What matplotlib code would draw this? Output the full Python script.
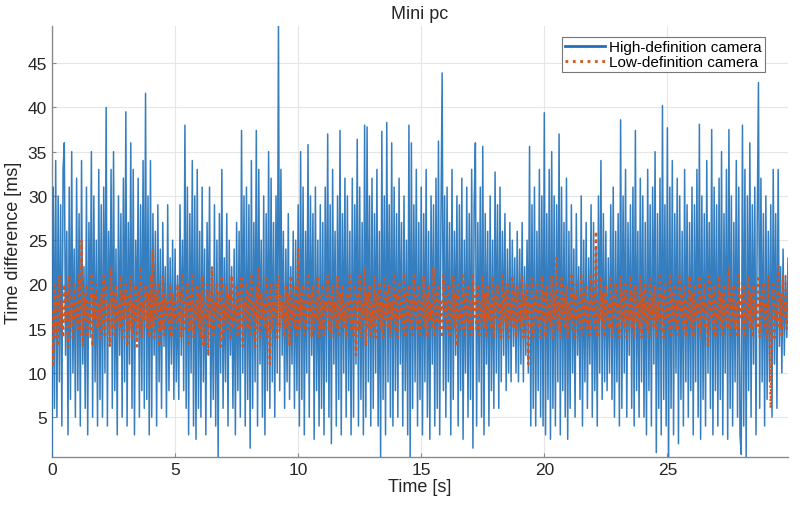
import numpy as np
import matplotlib
matplotlib.use("Agg")
import matplotlib.pyplot as plt

plt.rcParams["font.family"] = ["Liberation Sans", "DejaVu Sans"]

# frame interval of the resampled traces [s]
dt = 0.05

# high-definition camera, time difference between frames [ms] (one row = 1 s)
hd_ms = [
    0.5, 31, 6, 34, 5, 30, 9, 29, 4, 33, 36, 12, 26, 3, 31, 7, 35, 10, 24, 5,
    32, 8, 28, 4, 34, 11, 22, 6, 31, 3, 27, 14, 35, 5, 30, 9, 25, 4, 33, 7,
    29, 5, 31, 10, 40, 4, 26, 13, 33, 6, 35, 8, 24, 3, 30, 12, 28, 5, 32, 9,
    39.5, 4, 27, 11, 36, 6, 33, 3, 25, 14, 32, 5, 29, 8, 34, 6, 41.6, 7, 30, 3,
    34, 5, 28, 12, 26, 4, 29, 9, 24, 6, 27, 13, 22, 5, 29, 8, 23, 11, 25, 7,
    24, 9, 21, 7, 29, 12, 25, 8, 38, 6, 31, 3, 28, 10, 34, 4, 30, 2.5, 33, 6,
    26, 5, 31, 9, 24, 3, 27, 12, 31, 5, 22, 7, 29, 4, 25, 0.5, 28, 10, 33, 6,
    23, 9, 28, 4, 25, 12, 22, 6, 24, 3, 27, 8, 26, 5, 37.4, 10, 30, 4, 31, 7,
    29, 1.5, 34, 6, 27, 9, 37.4, 4, 33, 11, 25, 5, 30, 3, 28, 8, 35, 6, 32, 9,
    27, 5, 30, 10, 49.5, 8, 33, 12, 26, 6, 24, 9, 28, 7, 22, 11, 26, 6, 25, 8,
    29, 4, 35, 7, 31, 3, 26, 10, 35.8, 5, 30, 12, 28, 2.5, 31, 8, 25, 4, 29, 6,
    27, 3, 31, 9, 37, 5, 29, 2, 33, 11, 26, 4, 30, 7, 37.4, 3, 28, 10, 32, 5,
    30, 8, 26, 3, 32, 5, 29, 11, 36.4, 4, 31, 7, 27, 3, 38, 5, 37.8, 9, 30, 4,
    32, 6, 28, 10, 33, 4, 26, 0.5, 37.3, 7, 30, 3, 38.3, 9, 29, 5, 36, 4, 31, 8,
    28, 5, 32, 11, 27, 4, 30, 8, 25, 3, 38, 0.5, 36, 6, 29, 9, 33, 4, 27, 7,
    31, 3, 28, 9, 33, 5, 26, 2.5, 30, 11, 29, 4, 32, 6, 36.2, 3, 27, 43.9, 8, 30,
    5, 31, 9, 27, 3, 33, 7, 26, 12, 30, 4, 29, 8, 32, 2.5, 25, 10, 31, 5, 28,
    7, 33, 1.5, 29, 36, 4, 27, 9, 31, 5, 35.6, 3, 28, 11, 26, 4, 30, 8, 25, 6,
    32.7, 10, 29, 6, 31, 9, 26, 12, 28, 8, 24, 10, 27, 9, 25, 13, 23, 10, 26, 9,
    24, 11, 27, 9, 22, 12, 25, 10, 35.6, 4, 29, 6, 31, 4, 26, 8, 33, 5, 30, 4,
    39.4, 3, 28, 7, 33, 2.5, 35, 6, 30, 4, 29, 9, 37, 3, 31, 8, 27, 5, 32, 2.5,
    26, 6, 29, 10, 24, 5, 28, 12, 22, 7, 30, 4, 25, 9, 27, 6, 23, 11, 29, 5,
    27, 8, 24, 4, 30, 10, 34, 7, 28, 9, 26, 8, 23, 10, 29, 7, 31, 5, 26, 9,
    28, 4, 38.6, 6, 30, 10, 33, 5, 27, 12, 29, 6, 31, 4, 37.4, 8, 26, 5, 32, 9,
    30, 5, 27, 3, 33, 8, 29, 4, 31, 11, 35, 1, 28, 6, 32, 3, 40.2, 7, 29, 4,
    37.7, 0.5, 31, 6, 34, 3, 28, 10, 32, 2, 30, 7, 26, 4, 33, 9, 29, 5, 27, 8,
    31, 3, 29, 9, 33, 5, 38.1, 2.5, 30, 7, 28, 4, 34, 10, 27, 6, 37.5, 3, 31, 8,
    29, 4, 32, 7, 35, 3, 28, 10, 33, 2.5, 37.5, 6, 30, 4, 27, 9, 34, 5, 31, 3,
    0.8, 38, 4, 33, 0.5, 30, 8, 36, 5, 29, 11, 31, 3, 27, 42.8, 6, 32, 9, 28, 4,
    30, 7, 26, 9, 29, 5, 33, 11, 28, 6, 33, 13, 22, 10, 24, 12, 21, 14, 23, 15,
]

# low-definition camera [ms]
ld_ms = [
    17, 11, 20, 14, 19, 13, 21, 15, 18, 14, 20, 16, 19, 13, 21, 15, 18, 14, 20, 16,
    18, 15, 21, 14, 25, 13, 19, 16, 20, 14, 18, 15, 21, 13, 19, 16, 20, 15, 18, 14,
    19, 15, 21, 14, 20, 16, 18, 13, 22, 15, 19, 14, 20, 16, 18, 15, 21, 14, 19, 16,
    20, 13, 19, 15, 21, 14, 18, 16, 20, 13, 19, 15, 22, 14, 18, 16, 20, 15, 19, 14,
    21, 15, 24, 14, 19, 16, 20, 13, 18, 15, 21, 14, 19, 16, 18, 15, 20, 14, 19, 16,
    18, 15, 20, 16, 19, 14, 21, 15, 18, 16, 20, 13, 19, 15, 21, 14, 18, 16, 20, 15,
    19, 14, 21, 13, 18, 16, 20, 12, 19, 15, 22, 14, 18, 16, 20, 15, 19, 13, 21, 14,
    18, 16, 20, 15, 19, 14, 21, 15, 18, 16, 20, 14, 19, 15, 21, 13, 18, 16, 20, 15,
    19, 14, 21, 16, 18, 13, 20, 15, 22, 14, 19, 16, 18, 15, 21, 14, 19, 11, 20, 15,
    18, 16, 20, 14, 21, 15, 19, 16, 18, 14, 20, 15, 19, 13, 21, 16, 18, 15, 20, 14,
    24, 15, 19, 16, 20, 14, 18, 15, 21, 16, 19, 14, 20, 15, 18, 16, 21, 14, 19, 15,
    20, 14, 18, 16, 21, 15, 19, 14, 20, 16, 18, 15, 21, 14, 19, 16, 20, 15, 18, 14,
    19, 16, 21, 15, 18, 14, 20, 12, 19, 15, 21, 14, 18, 16, 22, 13, 19, 15, 20, 14,
    18, 15, 21, 14, 19, 16, 20, 15, 18, 14, 21, 16, 19, 15, 20, 14, 18, 16, 21, 15,
    19, 14, 20, 16, 18, 15, 21, 14, 19, 16, 20, 15, 18, 14, 21, 16, 19, 15, 20, 14,
    18, 16, 21, 15, 19, 14, 20, 16, 18, 15, 22, 14, 19, 16, 20, 15, 18, 14, 21, 16,
    19, 15, 20, 14, 18, 16, 21, 15, 19, 13, 20, 16, 18, 15, 21, 14, 19, 16, 20, 15,
    18, 14, 21, 16, 19, 15, 20, 14, 18, 16, 21, 15, 19, 14, 20, 16, 18, 15, 21, 14,
    19, 16, 20, 15, 18, 14, 21, 16, 19, 15, 20, 14, 18, 16, 21, 15, 19, 14, 20, 16,
    18, 15, 21, 14, 19, 16, 20, 11, 18, 15, 21, 14, 19, 16, 20, 15, 18, 14, 21, 16,
    19, 14, 20, 16, 18, 15, 21, 14, 19, 16, 23, 15, 18, 14, 21, 16, 19, 15, 20, 14,
    18, 16, 21, 15, 19, 14, 20, 16, 18, 15, 21, 14, 19, 16, 20, 15, 18, 14, 21, 16,
    19, 15, 26, 14, 18, 16, 21, 15, 19, 14, 20, 16, 18, 15, 21, 14, 19, 16, 20, 15,
    18, 14, 21, 16, 19, 15, 20, 14, 18, 16, 21, 15, 19, 14, 20, 16, 18, 15, 21, 14,
    19, 16, 20, 15, 18, 14, 21, 16, 19, 15, 20, 14, 18, 16, 21, 15, 19, 14, 20, 16,
    18, 15, 21, 14, 19, 16, 20, 15, 18, 14, 21, 16, 19, 15, 20, 14, 18, 16, 21, 15,
    19, 14, 20, 16, 18, 15, 21, 14, 19, 16, 20, 15, 18, 13, 21, 16, 19, 15, 20, 14,
    18, 16, 21, 15, 19, 14, 20, 16, 18, 15, 22, 14, 19, 16, 20, 15, 18, 14, 21, 16,
    19, 15, 20, 14, 18, 16, 21, 15, 19, 14, 20, 16, 18, 15, 21, 14, 19, 16, 20, 15,
    18, 14, 21, 16, 6, 15, 20, 14, 18, 16, 22, 15, 19, 14, 21, 16, 18, 15, 21, 14,
]

labels = ["High-definition camera", "Low-definition camera"]

t_hd = np.arange(len(hd_ms)) * dt
t_ld = np.arange(len(ld_ms)) * dt

C_BLUE = "#1f70b8"
C_ORANGE = "#D95319"

fig = plt.figure(figsize=(8, 5.1), dpi=100)
ax = fig.add_axes([0.065, 0.102, 0.92, 0.845])

ax.plot(t_hd, hd_ms, color=C_BLUE, lw=1.1, alpha=0.9, label=labels[0], zorder=3)
ax.plot(t_ld, ld_ms, color=C_ORANGE, ls=":", lw=1.8, label=labels[1], zorder=4)

ax.set_xlim(0, 29.9)
ax.set_ylim(0.5, 49.2)
ax.set_xticks([0, 5, 10, 15, 20, 25])
ax.set_yticks([5, 10, 15, 20, 25, 30, 35, 40, 45])
ax.grid(True, color="#e6e6e6", lw=0.8, zorder=0)
ax.set_axisbelow(True)

for s in ["top", "right"]:
    ax.spines[s].set_visible(False)
for s in ["left", "bottom"]:
    ax.spines[s].set_color("#8a8a8a")
    ax.spines[s].set_linewidth(1.0)
ax.tick_params(direction="in", length=3, colors="#8a8a8a", labelcolor="#262626",
               labelsize=12.5)

ax.set_xlabel("Time [s]", fontsize=13, color="#262626", labelpad=1)
ax.set_ylabel("Time difference [ms]", fontsize=13, color="#262626", labelpad=4)
ax.set_title("Mini pc", fontsize=13, color="#262626", pad=6)

leg = ax.legend(loc="upper right", bbox_to_anchor=(0.975, 0.985), fontsize=11,
                frameon=True, fancybox=False, edgecolor="#777777",
                borderpad=0.2, handlelength=2.6, handletextpad=0.3,
                labelspacing=0.05, borderaxespad=0.3)
leg.get_frame().set_linewidth(0.8)
leg.get_frame().set_alpha(1.0)
leg.get_lines()[0].set_linewidth(2.0)
leg.get_lines()[0].set_alpha(1.0)
leg.get_lines()[1].set_linewidth(2.0)

fig.savefig("out.png", dpi=100)
plt.close()
